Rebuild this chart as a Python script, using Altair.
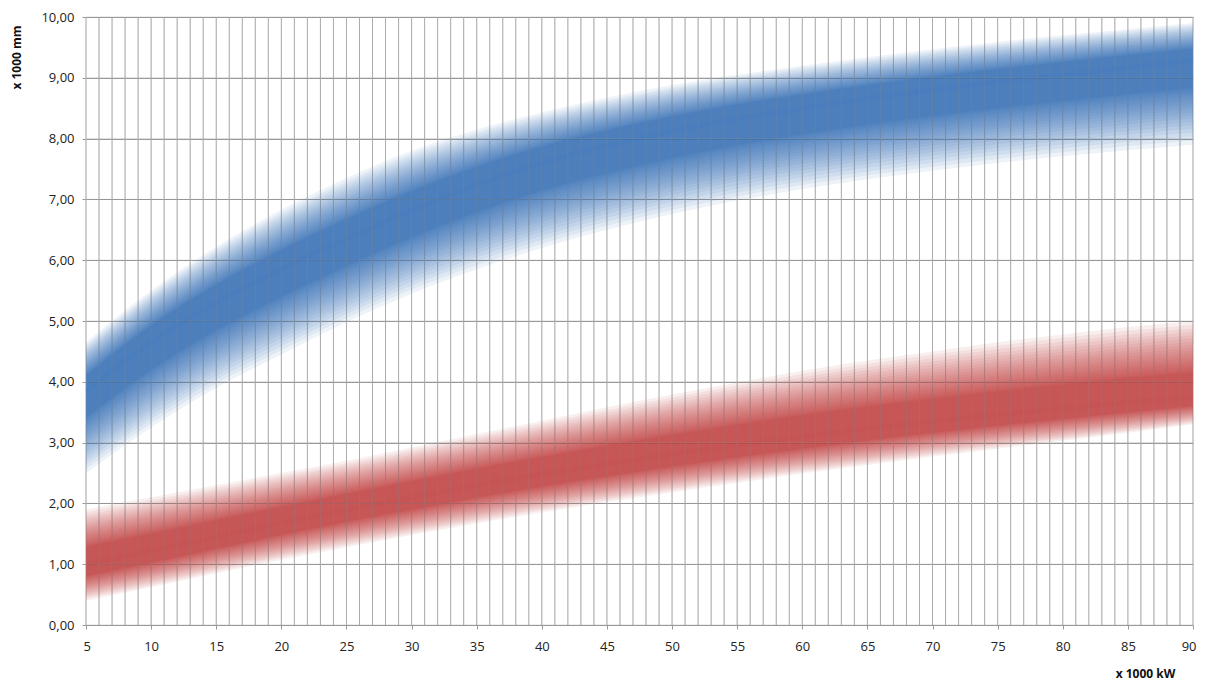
import altair as alt
import pandas as pd

# ---- data ----
x_vals = [5, 10, 15, 20, 25, 30, 35, 40, 45, 50, 55, 60, 65, 70, 75, 80, 85, 90]

blue_center = [3.85, 4.65, 5.3, 5.85, 6.35, 6.82, 7.24, 7.6, 7.88, 8.12, 8.33, 8.5, 8.66, 8.8, 8.93, 9.05, 9.17, 9.28]
blue_upper = [4.65, 5.5, 6.22, 6.83, 7.35, 7.8, 8.15, 8.43, 8.67, 8.88, 9.05, 9.2, 9.34, 9.47, 9.59, 9.7, 9.8, 9.9]
blue_lower = [2.5, 3.25, 3.9, 4.45, 4.98, 5.45, 5.85, 6.2, 6.5, 6.76, 6.98, 7.17, 7.33, 7.47, 7.6, 7.71, 7.81, 7.9]

red_center = [1.0, 1.22, 1.45, 1.68, 1.9, 2.1, 2.3, 2.48, 2.65, 2.81, 2.96, 3.1, 3.23, 3.35, 3.46, 3.56, 3.66, 3.75]
red_upper = [1.9, 2.1, 2.3, 2.5, 2.7, 2.92, 3.14, 3.36, 3.58, 3.79, 3.99, 4.18, 4.35, 4.5, 4.65, 4.78, 4.9, 5.0]
red_lower = [0.4, 0.62, 0.85, 1.07, 1.28, 1.48, 1.67, 1.85, 2.02, 2.18, 2.34, 2.49, 2.63, 2.77, 2.9, 3.03, 3.16, 3.3]

series_names = ["blue", "red"]
series_colors = ["#3b74bd", "#c7474a"]

x_label_values = list(range(5, 95, 5))
x_grid_values = list(range(5, 91))
y_values = list(range(0, 11))

# ---- soft band layers: nested areas of equal opacity (styling only) ----
N_LEVELS = 24
F_MIN = 0.32
EXP = 1.7
rows = []
for name, c, up, lo in [("blue", blue_center, blue_upper, blue_lower),
                        ("red", red_center, red_upper, red_lower)]:
    for k in range(N_LEVELS):
        t = k / (N_LEVELS - 1)
        f = F_MIN + (1 - F_MIN) * t ** EXP
        for xv, cv, uv, lv in zip(x_vals, c, up, lo):
            rows.append({"x": xv, "grp": f"{name}{k}", "series": name,
                         "lo": round(cv + (lv - cv) * f, 4), "hi": round(cv + (uv - cv) * f, 4)})
bands = pd.DataFrame(rows)

lines = pd.DataFrame(
    [{"x": xv, "series": "blue", "c": cv} for xv, cv in zip(x_vals, blue_center)]
    + [{"x": xv, "series": "red", "c": cv} for xv, cv in zip(x_vals, red_center)]
)
vgrid = pd.DataFrame({"x": x_grid_values})
hgrid = pd.DataFrame({"y": y_values})

FONT = "Open Sans"

x_scale = alt.Scale(domain=[5, 90], nice=False, zero=False)
y_scale = alt.Scale(domain=[0, 10], nice=False, zero=True)

x_axis = alt.Axis(
    values=x_label_values,
    labelOverlap=False,
    labelFlush=True,
    labelFlushOffset=3,
    grid=False,
    tickColor="#9a9a9a",
    tickSize=4,
    domain=False,
    labelFont=FONT,
    labelFontSize=13,
    labelColor="#222222",
    labelPadding=11,
    title="x 1000 kW",
    titleFont=FONT,
    titleFontSize=12,
    titleFontWeight="bold",
    titleColor="#111111",
    titleX=1059,
    titleY=48,
    titleAlign="center",
    titleBaseline="middle",
)

y_axis = alt.Axis(
    values=y_values,
    labelExpr="replace(format(datum.value, '.2f'), '.', ',')",
    grid=True,
    gridColor="#9a9a9a",
    gridWidth=1,
    tickColor="#9a9a9a",
    tickSize=4,
    domain=False,
    labelFont=FONT,
    labelFontSize=13,
    labelColor="#222222",
    labelPadding=8,
    title="x 1000 mm",
    titleFont=FONT,
    titleFontSize=12,
    titleFontWeight="bold",
    titleColor="#111111",
    titleAngle=270,
    titleX=-70,
    titleY=40,
    titleAlign="center",
    titleBaseline="middle",
)

color_enc = alt.Color("series:N", scale=alt.Scale(domain=series_names, range=series_colors), legend=None)

grid_under = alt.Chart(vgrid).mark_rule(color="#b4b4b4", strokeWidth=1).encode(
    x=alt.X("x:Q", scale=x_scale, axis=x_axis),
)

area = alt.Chart(bands).mark_area(interpolate="monotone", opacity=0.085).encode(
    x=alt.X("x:Q", scale=x_scale, axis=x_axis),
    y=alt.Y("lo:Q", scale=y_scale, axis=y_axis),
    y2=alt.Y2("hi:Q"),
    color=color_enc,
    detail=alt.Detail("grp:N"),
)

core = alt.Chart(lines).mark_line(interpolate="monotone", strokeWidth=5, opacity=0.12).encode(
    x=alt.X("x:Q", scale=x_scale, axis=x_axis),
    y=alt.Y("c:Q", scale=y_scale, axis=y_axis),
    color=color_enc,
)

grid_over_v = alt.Chart(vgrid).mark_rule(color="#9a9a9a", strokeWidth=1, opacity=0.3).encode(
    x=alt.X("x:Q", scale=x_scale, axis=x_axis),
)
grid_over_h = alt.Chart(hgrid).mark_rule(color="#8a8a8a", strokeWidth=1, opacity=0.3).encode(
    y=alt.Y("y:Q", scale=y_scale, axis=y_axis),
)

chart = (
    alt.layer(grid_under, area, core, grid_over_v, grid_over_h)
    .properties(
        width=1107,
        height=608,
        autosize=alt.AutoSizeParams(type="none"),
        padding={"left": 78, "top": 9, "right": 4, "bottom": 58},
        background="white",
    )
    .configure_view(strokeWidth=0)
)

chart.save("out.html", embed_options={"renderer": "svg", "actions": False})
